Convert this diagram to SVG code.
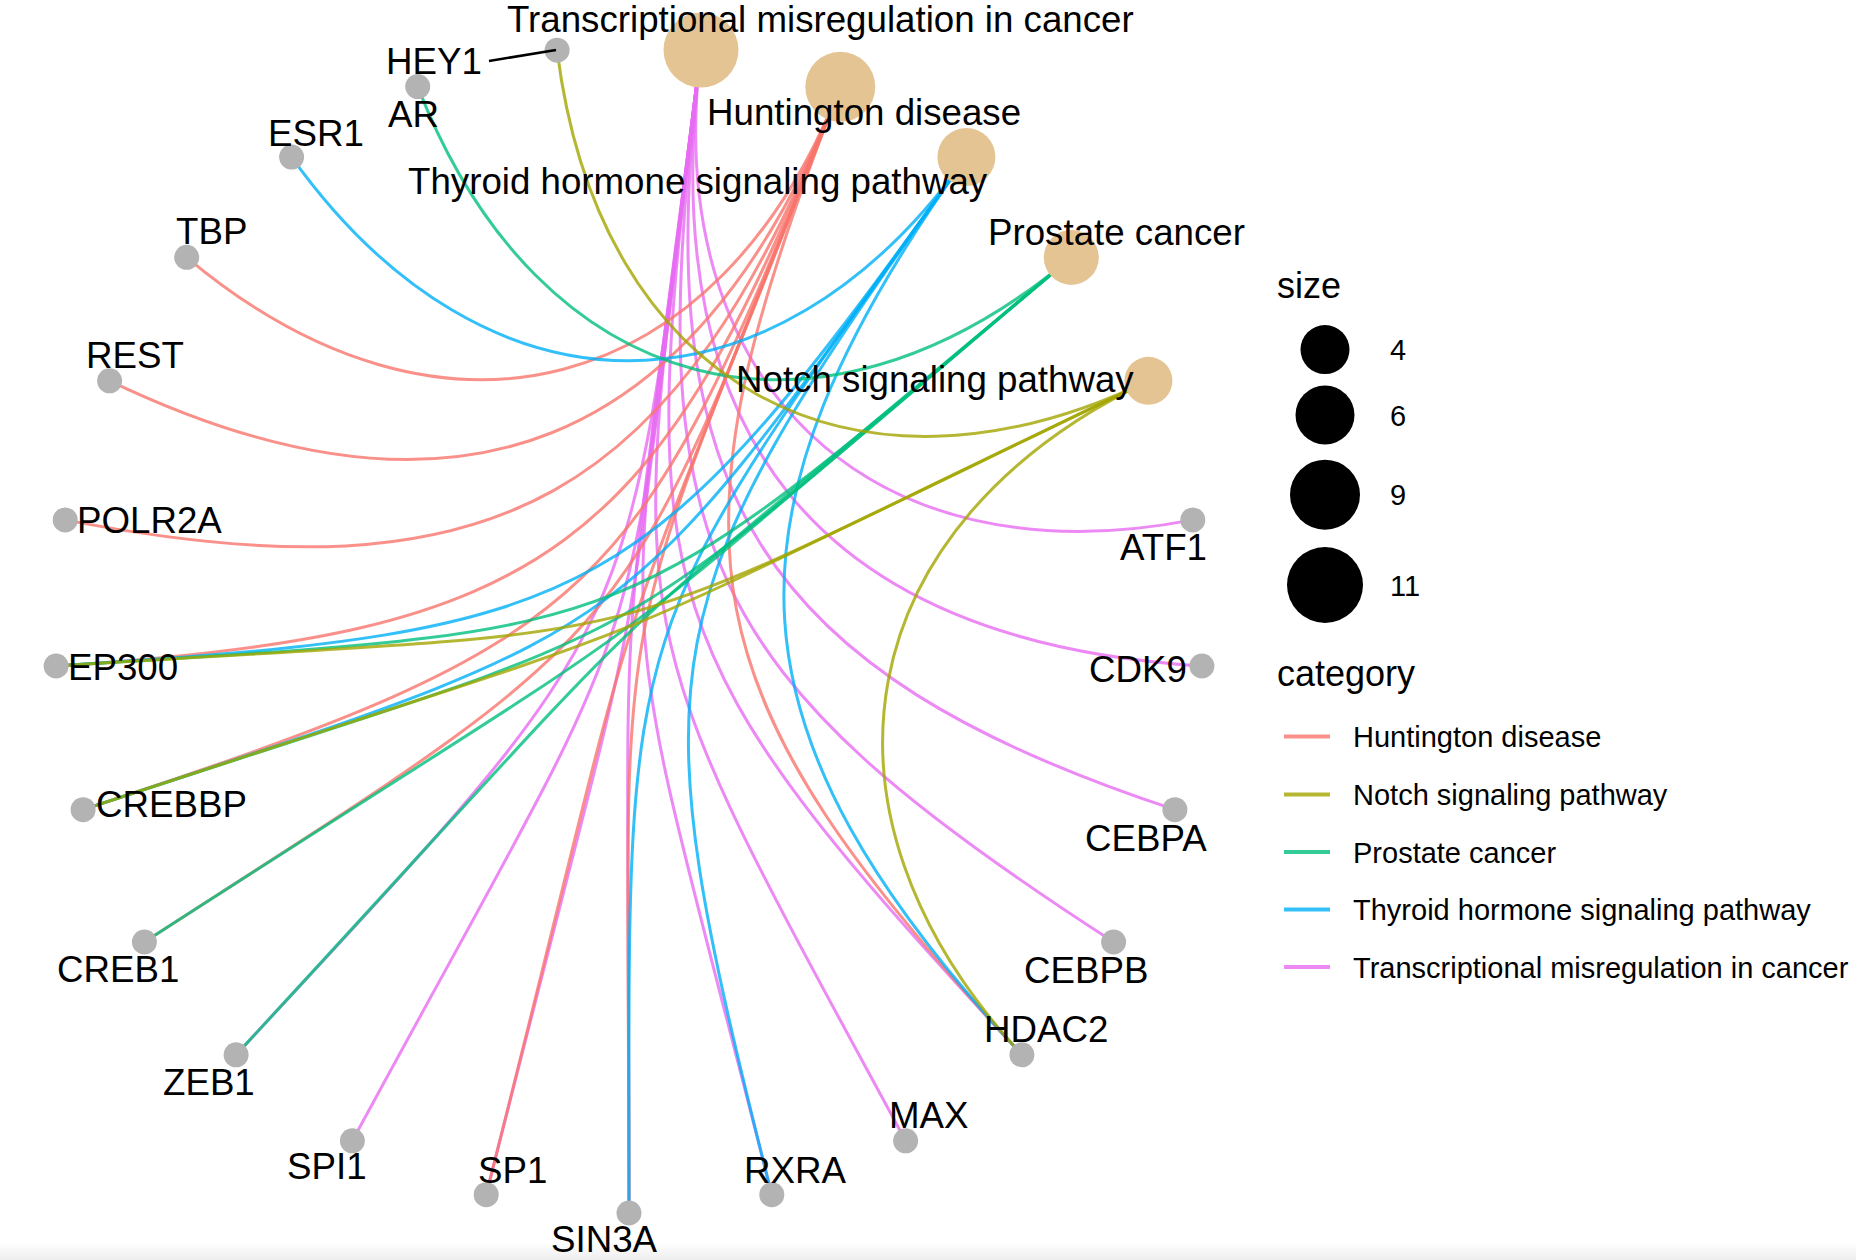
<svg xmlns="http://www.w3.org/2000/svg" width="1856" height="1260" viewBox="0 0 1856 1260">
<defs>
<style>
.e{fill:none;stroke-width:3;stroke-opacity:0.8}
.hd{stroke:#F8766D}.nt{stroke:#A3A500}.pc{stroke:#00BF7D}.th{stroke:#00B0F6}.tm{stroke:#E76BF3}
.cat{fill:#E5C494}
.gene{fill:#B3B3B3}
.lbl{font-family:"Liberation Sans",Arial,Helvetica,sans-serif;font-size:36.7px;fill:#000}
.lt{font-family:"Liberation Sans",Arial,Helvetica,sans-serif;font-size:36px;fill:#000}
.lx{font-family:"Liberation Sans",Arial,Helvetica,sans-serif;font-size:29px;fill:#000}
.key{stroke-width:4;stroke-opacity:0.8}
</style>
<linearGradient id="band" x1="0" y1="0" x2="0" y2="1">
<stop offset="0" stop-color="#ffffff"/>
<stop offset="1" stop-color="#eeeeee"/>
</linearGradient>
</defs>
<rect x="0" y="0" width="1856" height="1260" fill="#ffffff"/>
<rect x="0" y="1242" width="1856" height="18" fill="url(#band)"/>

<g id="edges">
<g id="edges-transcriptional" class="e tm">
<path d="M1192.8,519.9 C868.6,582.8 659.6,383.2 700.9,50.2"/>
<path d="M1201.9,666 C818.1,641.4 652.7,438.2 700.9,50.2"/>
<path d="M1174.9,809.7 C757.3,671.7 645.9,493.2 700.9,50.2"/>
<path d="M1113.6,942 C696.8,673.1 639.1,548.2 700.9,50.2"/>
<path d="M1021.9,1054.8 C646.7,648.4 632.2,603.2 700.9,50.2"/>
<path d="M905.6,1140.8 C615.2,603.7 625.4,658.3 700.9,50.2"/>
<path d="M771.8,1194.7 C608.3,547.3 618.6,713.3 700.9,50.2"/>
<path d="M629,1213 C629,489.2 611.7,768.3 700.9,50.2"/>
<path d="M486.2,1194.7 C663.3,493.6 611.7,768.3 700.9,50.2"/>
<path d="M352.4,1140.8 C669.1,555.1 618.6,713.3 700.9,50.2"/>
<path d="M236.1,1054.8 C648.6,608 625.4,658.3 700.9,50.2"/>
</g>
<g id="edges-huntington" class="e hd">
<path d="M186.7,257.3 C441,471.2 718.8,398.7 840.3,86.6"/>
<path d="M109.6,380.8 C457.6,547.3 698.7,450.2 840.3,86.6"/>
<path d="M65.2,519.9 C496.5,603.6 678.7,501.8 840.3,86.6"/>
<path d="M56.1,666 C548.8,634.4 658.6,553.3 840.3,86.6"/>
<path d="M83.1,809.7 C604.4,637.4 638.5,604.9 840.3,86.6"/>
<path d="M144.4,942 C653.2,613.7 618.4,656.4 840.3,86.6"/>
<path d="M486.2,1194.7 C663.3,493.6 578.3,759.5 840.3,86.6"/>
<path d="M629,1213 C629,544.7 598.4,708 840.3,86.6"/>
<path d="M1021.9,1054.8 C684,688.9 658.6,553.3 840.3,86.6"/>
</g>
<g id="edges-thyroid" class="e th">
<path d="M291.6,157.1 C485.6,428.6 772.4,428.6 966.4,157.1"/>
<path d="M56.1,666 C603.2,631 644.2,608.1 966.4,157.1"/>
<path d="M83.1,809.7 C656.3,620.3 612.1,652.9 966.4,157.1"/>
<path d="M629,1213 C629,600.1 612.1,652.9 966.4,157.1"/>
<path d="M771.8,1194.7 C635.4,654.7 644.2,608.1 966.4,157.1"/>
<path d="M1021.9,1054.8 C721.3,729.3 708.3,518.3 966.4,157.1"/>
</g>
<g id="edges-prostate" class="e pc">
<path d="M417.7,86.6 C539.2,398.7 817,471.2 1071.3,257.3"/>
<path d="M56.1,666 C657.6,627.5 606.9,647.9 1071.3,257.3"/>
<path d="M83.1,809.7 C708.2,603.1 564.9,683.2 1071.3,257.3"/>
<path d="M144.4,942 C745.3,554.3 522.8,718.6 1071.3,257.3"/>
<path d="M236.1,1054.8 C723.3,527.2 522.8,718.6 1071.3,257.3"/>
</g>
<g id="edges-notch" class="e nt">
<path d="M557.1,50.2 C598.4,383.2 849.7,523.7 1148.4,380.8"/>
<path d="M56.1,666 C712.1,624 553.7,665.3 1148.4,380.8"/>
<path d="M83.1,809.7 C760,586 504.3,688.9 1148.4,380.8"/>
<path d="M1021.9,1054.8 C796,810.1 849.7,523.7 1148.4,380.8"/>
</g>
</g>

<g id="node-transcriptional"><circle class="cat" cx="701" cy="50" r="37.5"/></g>
<g id="node-huntington"><circle class="cat" cx="840.3" cy="86.8" r="35"/></g>
<g id="node-thyroid"><circle class="cat" cx="966.4" cy="157" r="29"/></g>
<g id="node-prostate"><circle class="cat" cx="1071.3" cy="257.4" r="27.5"/></g>
<g id="node-notch"><circle class="cat" cx="1148.4" cy="380.8" r="24"/></g>

<g id="node-SIN3A"><circle class="gene" cx="629" cy="1213" r="12.5"/></g>
<g id="node-SP1"><circle class="gene" cx="486.2" cy="1194.7" r="12.5"/></g>
<g id="node-SPI1"><circle class="gene" cx="352.4" cy="1140.8" r="12.5"/></g>
<g id="node-ZEB1"><circle class="gene" cx="236.1" cy="1054.8" r="12.5"/></g>
<g id="node-CREB1"><circle class="gene" cx="144.4" cy="942" r="12.5"/></g>
<g id="node-CREBBP"><circle class="gene" cx="83.1" cy="809.7" r="12.5"/></g>
<g id="node-EP300"><circle class="gene" cx="56.1" cy="666" r="12.5"/></g>
<g id="node-POLR2A"><circle class="gene" cx="65.2" cy="519.9" r="12.5"/></g>
<g id="node-REST"><circle class="gene" cx="109.6" cy="380.8" r="12.5"/></g>
<g id="node-TBP"><circle class="gene" cx="186.7" cy="257.3" r="12.5"/></g>
<g id="node-ESR1"><circle class="gene" cx="291.6" cy="157.1" r="12.5"/></g>
<g id="node-AR"><circle class="gene" cx="417.7" cy="86.6" r="12.5"/></g>
<g id="node-HEY1"><circle class="gene" cx="557.1" cy="50.2" r="12.5"/></g>
<g id="node-ATF1"><circle class="gene" cx="1192.8" cy="519.9" r="12.5"/></g>
<g id="node-CDK9"><circle class="gene" cx="1201.9" cy="666" r="12.5"/></g>
<g id="node-CEBPA"><circle class="gene" cx="1174.9" cy="809.7" r="12.5"/></g>
<g id="node-CEBPB"><circle class="gene" cx="1113.6" cy="942" r="12.5"/></g>
<g id="node-HDAC2"><circle class="gene" cx="1021.9" cy="1054.8" r="12.5"/></g>
<g id="node-MAX"><circle class="gene" cx="905.6" cy="1140.8" r="12.5"/></g>
<g id="node-RXRA"><circle class="gene" cx="771.8" cy="1194.7" r="12.5"/></g>

<g id="labels">
<line x1="489" y1="61" x2="556" y2="50" stroke="#000" stroke-width="2.5"/>
<text class="lbl" x="507" y="32">Transcriptional misregulation in cancer</text>
<text class="lbl" x="707" y="125">Huntington disease</text>
<text class="lbl" x="408" y="194">Thyroid hormone signaling pathway</text>
<text class="lbl" x="988" y="245">Prostate cancer</text>
<text class="lbl" x="736" y="392">Notch signaling pathway</text>
<text class="lbl" x="386" y="74">HEY1</text>
<text class="lbl" x="388" y="127">AR</text>
<text class="lbl" x="268" y="146">ESR1</text>
<text class="lbl" x="176" y="244">TBP</text>
<text class="lbl" x="86" y="368">REST</text>
<text class="lbl" x="77" y="533">POLR2A</text>
<text class="lbl" x="68" y="680">EP300</text>
<text class="lbl" x="96" y="817">CREBBP</text>
<text class="lbl" x="57" y="982">CREB1</text>
<text class="lbl" x="163" y="1095">ZEB1</text>
<text class="lbl" x="287" y="1179">SPI1</text>
<text class="lbl" x="478" y="1183">SP1</text>
<text class="lbl" x="551" y="1252">SIN3A</text>
<text class="lbl" x="744" y="1183">RXRA</text>
<text class="lbl" x="889" y="1128">MAX</text>
<text class="lbl" x="984" y="1042">HDAC2</text>
<text class="lbl" x="1024" y="983">CEBPB</text>
<text class="lbl" x="1085" y="851">CEBPA</text>
<text class="lbl" x="1089" y="682">CDK9</text>
<text class="lbl" x="1120" y="560">ATF1</text>
</g>

<g id="legend-size">
<text class="lt" x="1277" y="298">size</text>
<circle cx="1325" cy="349.6" r="24.5" fill="#000"/>
<circle cx="1325" cy="415" r="29.5" fill="#000"/>
<circle cx="1325" cy="494.7" r="35" fill="#000"/>
<circle cx="1325" cy="585" r="38" fill="#000"/>
<text class="lx" x="1390" y="360">4</text>
<text class="lx" x="1390" y="425.5">6</text>
<text class="lx" x="1390" y="505">9</text>
<text class="lx" x="1390" y="595.5">11</text>
</g>

<g id="legend-category">
<text class="lt" x="1277" y="686">category</text>
<line class="key hd" x1="1284" y1="736.5" x2="1330" y2="736.5"/>
<line class="key nt" x1="1284" y1="794.5" x2="1330" y2="794.5"/>
<line class="key pc" x1="1284" y1="852" x2="1330" y2="852"/>
<line class="key th" x1="1284" y1="909.5" x2="1330" y2="909.5"/>
<line class="key tm" x1="1284" y1="967" x2="1330" y2="967"/>
<text class="lx" x="1353" y="747">Huntington disease</text>
<text class="lx" x="1353" y="805">Notch signaling pathway</text>
<text class="lx" x="1353" y="862.5">Prostate cancer</text>
<text class="lx" x="1353" y="920">Thyroid hormone signaling pathway</text>
<text class="lx" x="1353" y="977.5">Transcriptional misregulation in cancer</text>
</g>
</svg>
